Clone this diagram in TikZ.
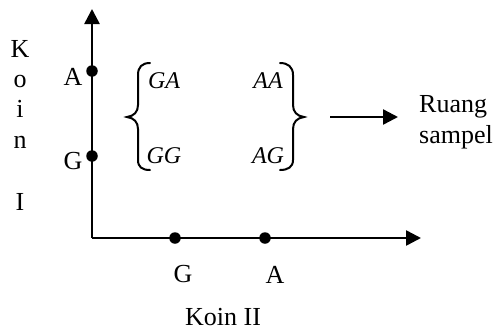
\documentclass[tikz,border=0pt]{standalone}
\usepackage{fontspec}
\setmainfont{Liberation Serif}
\usetikzlibrary{arrows.meta}
\begin{document}
\begin{tikzpicture}[x=1pt,y=-1pt,
  lbl/.style={font=\fontsize{26}{31}\selectfont,inner sep=0pt,anchor=base},
  mlbl/.style={font=\fontsize{24}{28}\selectfont\itshape,inner sep=0pt,anchor=base},
  dotm/.style={circle,fill=black,inner sep=0pt,minimum size=11.5pt},
  axis/.style={line width=2.6pt,-{Triangle[length=15pt,width=15pt]}},
  brace/.style={line width=2pt,line cap=round}]
\useasboundingbox (0,0) rectangle (495,330);
% axes
\coordinate (O) at (92,238);
\coordinate (ytip) at (92,9);
\coordinate (xtip) at (421,238);
\draw[axis] (O) -- (ytip);
\draw[axis] (O) -- (xtip);
% dots
\node[dotm] (yA) at (92,71) {};
\node[dotm] (yG) at (92,156) {};
\node[dotm] (xG) at (175,238) {};
\node[dotm] (xA) at (265,238) {};
% axis labels
\node[lbl] (lyA) at (73,85) {A};
\node[lbl] (lyG) at (73,169) {G};
\node[lbl] (lxG) at (183,282) {G};
\node[lbl] (lxA) at (275,283) {A};
\node[lbl] (k2) at (223,325) {Koin II};
\node[lbl] (k1K) at (20,57) {K};
\node[lbl] (k1o) at (20,87) {o};
\node[lbl] (k1i) at (20,117) {i};
\node[lbl] (k1n) at (20,148) {n};
\node[lbl] (k1I) at (20,210) {I};
% matrix entries
\node[mlbl] (GA) at (164,88) {GA};
\node[mlbl] (AA) at (268,88) {AA};
\node[mlbl] (GG) at (164,163) {GG};
\node[mlbl] (AG) at (268,163) {AG};
% braces
\draw[brace] (150,63) .. controls (142,63) and (138,67) .. (138,75)
  -- (138,105) .. controls (138,112) and (134,116) .. (127,117)
  .. controls (134,118) and (138,122) .. (138,129)
  -- (138,160) .. controls (138,167) and (142,170) .. (150,170);
\draw[brace] (280,63) .. controls (288,63) and (293,67) .. (293,75)
  -- (293,105) .. controls (293,112) and (297,116) .. (304,117)
  .. controls (297,118) and (293,122) .. (293,129)
  -- (293,160) .. controls (293,167) and (288,170) .. (280,170);
% arrow to label
\coordinate (as) at (330,117);
\coordinate (ae) at (398,117);
\node[lbl,anchor=base west] (ruang) at (419,112) {Ruang};
\node[lbl,anchor=base west] (sampel) at (419,143) {sampel};
\draw[line width=2.4pt,-{Triangle[length=15pt,width=15pt]}] (as) -- (ae);
\end{tikzpicture}
\end{document}
